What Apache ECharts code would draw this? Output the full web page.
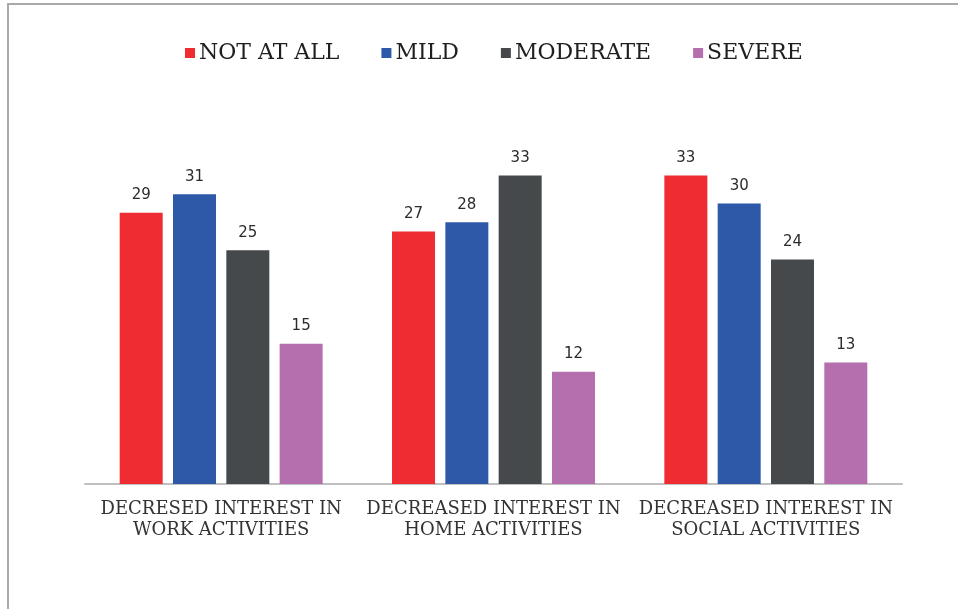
<!DOCTYPE html>
<html>
<head>
<meta charset="utf-8">
<script src="https://cdn.jsdelivr.net/npm/echarts@6/dist/echarts.min.js"></script>
<style>
  html, body { margin: 0; padding: 0; background: #ffffff; }
  #frame { position: absolute; left: 7px; top: 3px; width: 960px; height: 620px;
           border-left: 2px solid #a9a9a9; border-top: 2px solid #a9a9a9; }
  #chart { position: absolute; left: 0; top: 0; width: 958px; height: 609px; }
</style>
</head>
<body>
<div id="frame"></div>
<div id="chart"></div>
<script>
// Categories and responses (percent)
const categories = [
  'DECRESED INTEREST IN\nWORK ACTIVITIES',
  'DECREASED INTEREST IN\nHOME ACTIVITIES',
  'DECREASED INTEREST IN\nSOCIAL ACTIVITIES'
];
const seriesNames = ['NOT AT ALL', 'MILD', 'MODERATE', 'SEVERE'];
const notAtAll = [29, 27, 33];
const mild = [31, 28, 30];
const moderate = [25, 33, 24];
const severe = [15, 12, 13];

const colors = ['#ee2c31', '#2e59a8', '#45494b', '#b56fae'];
const values = [notAtAll, mild, moderate, severe];

const chart = echarts.init(document.getElementById('chart'), null, { renderer: 'canvas' });
chart.setOption({
  backgroundColor: 'transparent',
  animation: false,
  color: colors,
  legend: {
    top: 37,
    left: 180,
    itemWidth: 10,
    itemHeight: 10,
    itemGap: 42,
    icon: 'rect',
    textStyle: { fontFamily: 'DejaVu Serif', fontSize: 22, color: '#1f1f1f', padding: [0, 0, 0, -1] },
    data: seriesNames
  },
  grid: { left: 85, right: 56, top: 110, bottom: 125 },
  xAxis: {
    type: 'category',
    data: categories,
    axisTick: { show: false },
    axisLine: { lineStyle: { color: '#bfbfbf', width: 2 } },
    axisLabel: {
      interval: 0,
      margin: 15,
      fontFamily: 'DejaVu Serif',
      fontSize: 18,
      lineHeight: 21,
      color: '#333333'
    }
  },
  yAxis: { type: 'value', min: 0, max: 40, show: false, splitLine: { show: false } },
  series: seriesNames.map((name, i) => ({
    name: name,
    type: 'bar',
    data: values[i],
    barWidth: 43,
    barGap: '24%',
    itemStyle: { color: colors[i] },
    label: {
      show: true,
      position: 'top',
      distance: 10,
      fontFamily: 'DejaVu Sans',
      fontSize: 15,
      color: '#2b2b2b'
    }
  }))
});
</script>
</body>
</html>
